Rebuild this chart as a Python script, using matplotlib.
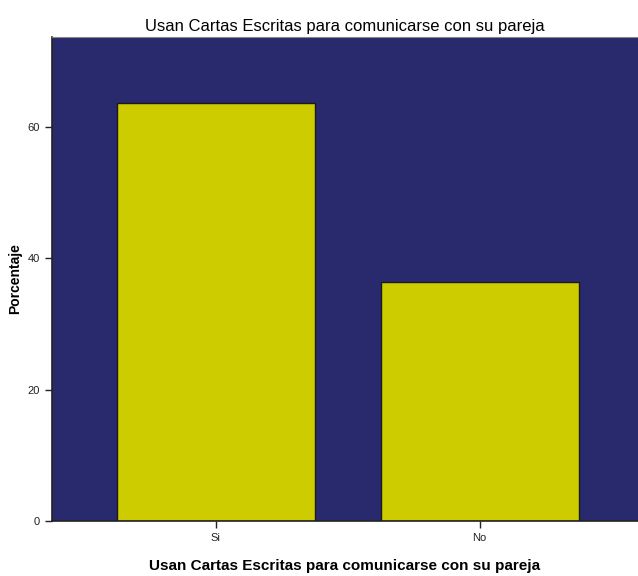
import matplotlib.pyplot as plt

categories = ['Si', 'No']
porcentajes = [63.6, 36.4]
y_ticks = [0, 20, 40, 60]

plt.rcParams['font.family'] = ['Liberation Sans', 'DejaVu Sans']

fig = plt.figure(figsize=(6.38, 5.76), dpi=100)
ax = fig.add_axes([0.0815, 0.0955, 0.9185, 0.8405])

ax.set_facecolor('#29296E')
ax.bar(range(len(categories)), porcentajes, width=0.75, color='#CCCC00',
       edgecolor='#1a1a1a', linewidth=1.0, zorder=2)

ax.set_xlim(-0.62, 1.6)
ax.set_ylim(0, 73.7)
ax.set_xticks(range(len(categories)))
ax.set_xticklabels(categories)
ax.set_yticks(y_ticks)
ax.tick_params(axis='both', labelsize=8, length=5, width=1, direction='out', colors='#222222')

for side in ['left', 'bottom']:
    ax.spines[side].set_color('#222222')
    ax.spines[side].set_linewidth(1.2)
ax.spines['top'].set_color('#888888')
ax.spines['top'].set_linewidth(0.8)
ax.spines['right'].set_visible(False)

ax.set_title('Usan Cartas Escritas para comunicarse con su pareja', fontsize=12, pad=4)
ax.set_xlabel('Usan Cartas Escritas para comunicarse con su pareja', fontsize=11,
              fontweight='bold', labelpad=12)
ax.set_ylabel('Porcentaje', fontsize=10, fontweight='bold', labelpad=4)

fig.savefig('out.png', dpi=100)
plt.close(fig)
